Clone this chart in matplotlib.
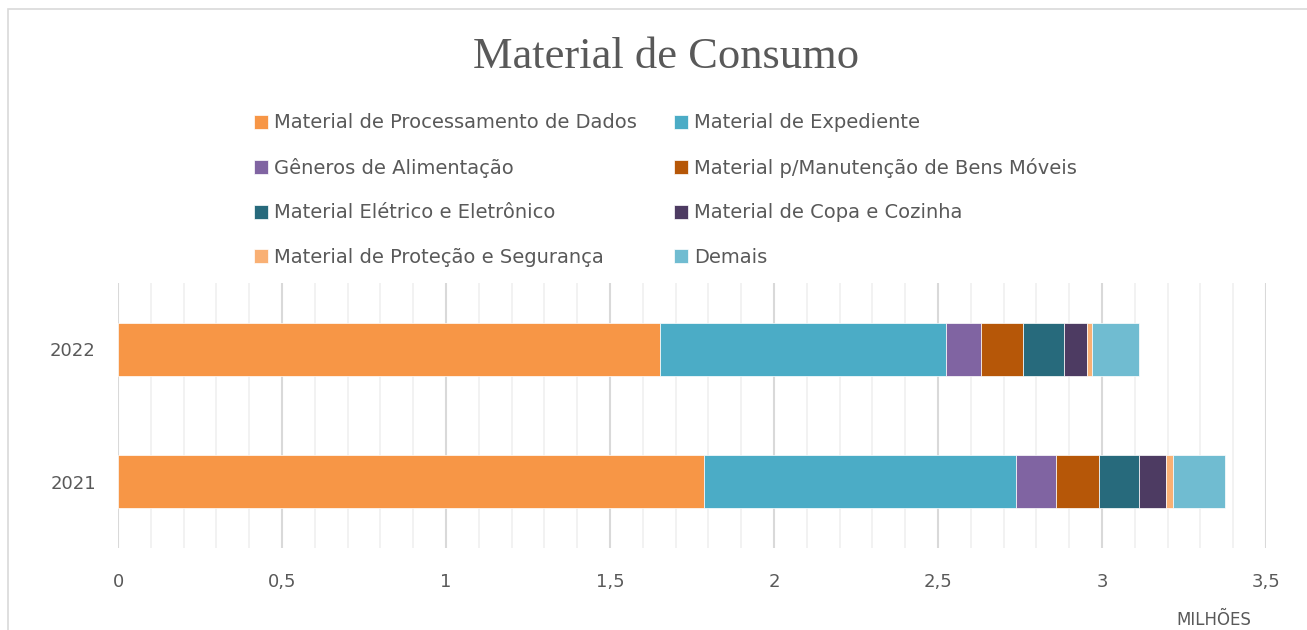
import matplotlib.pyplot as plt
from matplotlib.patches import Rectangle
import numpy as np

# values in millions
years = ['2022', '2021']
categories = ['Material de Processamento de Dados', 'Material de Expediente',
              'Gêneros de Alimentação', 'Material p/Manutenção de Bens Móveis',
              'Material Elétrico e Eletrônico', 'Material de Copa e Cozinha',
              'Material de Proteção e Segurança', 'Demais']
vals_2022 = [1.652, 0.871, 0.109, 0.128, 0.125, 0.070, 0.015, 0.142]
vals_2021 = [1.787, 0.950, 0.123, 0.132, 0.122, 0.082, 0.020, 0.159]
colors = ['#F79646', '#4BACC6', '#8064A2', '#B65708',
          '#276A7C', '#4D3B62', '#F9B074', '#70BCD1']

fig = plt.figure(figsize=(13.07, 6.3), dpi=100)
ax = fig.add_axes([118 / 1307, 1 - 548 / 630, 1148 / 1307, 265 / 630])

data = np.array([vals_2022, vals_2021])
ypos = [0.5, 1.5]
left = np.zeros(2)
handles = []
for i, cat in enumerate(categories):
    b = ax.barh(ypos, data[:, i], left=left, height=0.4, color=colors[i],
                edgecolor='white', linewidth=0.5, label=cat, zorder=3)
    handles.append(b)
    left += data[:, i]

ax.set_xlim(0, 3.5)
ax.set_ylim(2, 0)
ax.set_yticks(ypos)
ax.set_yticklabels(years)
ax.set_xticks(np.arange(0, 3.51, 0.5))
ax.set_xticklabels(['0', '0,5', '1', '1,5', '2', '2,5', '3', '3,5'])
ax.set_xticks(np.arange(0, 3.51, 0.1), minor=True)
ax.grid(axis='x', which='major', color='#D9D9D9', linewidth=1.5, zorder=0)
ax.grid(axis='x', which='minor', color='#F0F0F0', linewidth=1.2, zorder=0)
for s in ax.spines.values():
    s.set_visible(False)
ax.tick_params(axis='both', which='both', length=0, colors='#595959', labelsize=13)
ax.tick_params(axis='x', pad=18)
ax.tick_params(axis='y', pad=16)

fig.text(1214 / 1307, 1 - 620 / 630, 'MILHÕES', ha='center', va='center',
         fontsize=12, color='#595959')
fig.text(666 / 1307, 1 - 57 / 630, 'Material de Consumo', ha='center', va='center',
         fontsize=32, color='#595959', family='Liberation Serif')

order = [0, 2, 4, 6, 1, 3, 5, 7]
leg = fig.legend([handles[i] for i in order], [categories[i] for i in order],
                 ncol=2, loc='upper left', bbox_to_anchor=(236 / 1307, 1 - 96 / 630),
                 frameon=False, fontsize=14, labelspacing=1.31, columnspacing=1.89,
                 handlelength=0.75, handleheight=0.75, handletextpad=0.31)
for t in leg.get_texts():
    t.set_color('#595959')

fig.add_artist(Rectangle((8 / 1307, -0.01), 1.0, 1 - 9 / 630 + 0.01, transform=fig.transFigure,
                         fill=False, edgecolor='#D9D9D9', linewidth=1.2))

fig.savefig('out.png', dpi=100)
